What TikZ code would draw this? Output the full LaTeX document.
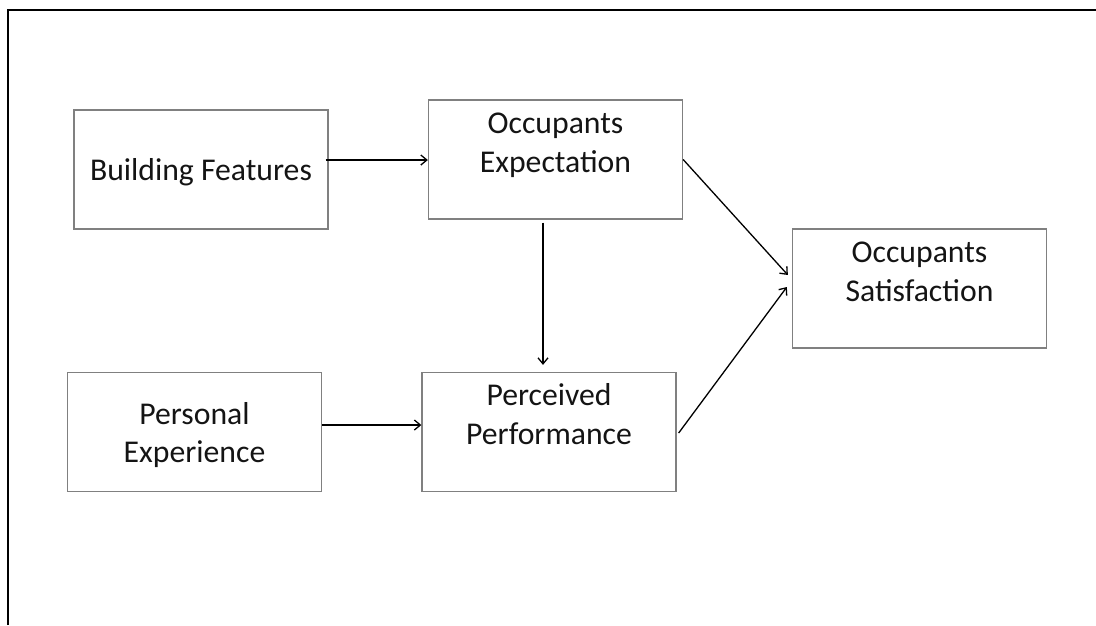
\documentclass[tikz,border=0pt]{standalone}
\usepackage{fontspec}
\setmainfont{Carlito}
\usetikzlibrary{arrows.meta}
\definecolor{boxgray}{RGB}{128,128,128}
\definecolor{txtcol}{RGB}{20,20,20}
\begin{document}
\begin{tikzpicture}[x=1pt,y=-1pt,
  box/.style={draw=boxgray,line width=1.3pt,minimum width=254pt,minimum height=119pt,inner sep=0pt},
  txt/.style={anchor=base,inner sep=0pt,text=txtcol,font=\fontsize{31.7}{38}\selectfont},
  arr/.style={line width=1.3pt,-{Straight Barb[length=6pt,width=10pt,line width=1.3pt]}},
  frame/.style={line width=2pt}]
\useasboundingbox (0,0) rectangle (1096,625);
% outer frame (only top and left visible)
\draw[frame] (8.3,625) -- (8.3,10) -- (1096,10);
% boxes
\node[box] (BF) at (201,169.5) {};
\node[box] (OE) at (555.5,159.5) {};
\node[box] (PE) at (194.5,432) {};
\node[box] (PP) at (549,432) {};
\node[box] (OS) at (919.5,288.5) {};
% texts
\node[txt] (BFt) at (201,180) {Building Features};
\node[txt] (OEt1) at (555.5,133) {Occupants};
\node[txt] (OEt2) at (555.5,172) {Expectation};
\node[txt] (PEt1) at (194.5,424) {Personal};
\node[txt] (PEt2) at (194.5,462) {Experience};
\node[txt] (PPt1) at (549,405) {Perceived};
\node[txt] (PPt2) at (549,444) {Performance};
\node[txt] (OSt1) at (919.5,262) {Occupants};
\node[txt] (OSt2) at (919.5,301) {Satisfaction};
% connectors
\draw[arr] ([xshift=-3pt,yshift=9.5pt]BF.east) -- ([yshift=-0.5pt]OE.west);
\draw[arr] ([xshift=-12.5pt,yshift=-3pt]OE.south) -- ([xshift=-6pt,yshift=7pt]PP.north);
\draw[arr] ([yshift=7pt]PE.east) -- ([yshift=7pt]PP.west);
\draw[arr] (OE.east) -- ([shift={(-4pt,13.5pt)}]OS.west);
\draw[arr] ([xshift=2pt,yshift=-1pt]PP.east) -- ([shift={(-5pt,1.5pt)}]OS.west);
\end{tikzpicture}
\end{document}
